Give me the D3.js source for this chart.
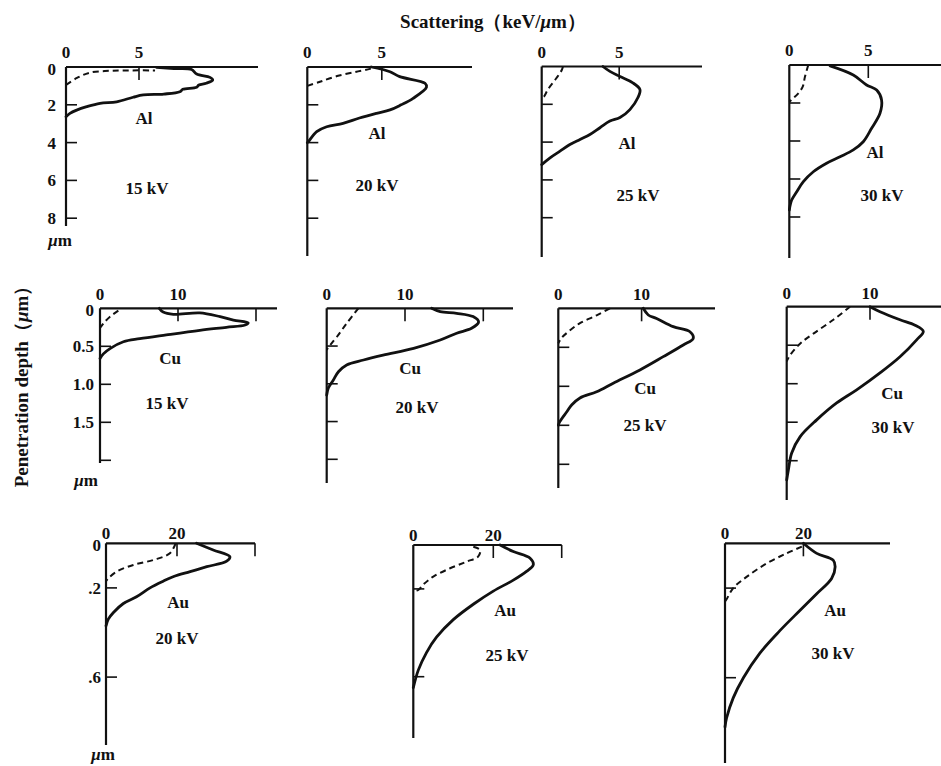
<!DOCTYPE html>
<html>
<head>
<meta charset="utf-8">
<script src="https://cdn.jsdelivr.net/npm/d3@7"></script>
<style>
  body { margin: 0; background: #fff; }
  text { font-family: "Liberation Serif", "Times New Roman", serif; fill: #111; }
</style>
</head>
<body>
<div class="chart"></div>
<script>
// scattering (keV/um) vs penetration depth (um)
var al15Solid = [[6.2,0.02],[7.4,0.08],[8.6,0.13],[8.95,0.37],[9.86,0.55],[10.05,0.69],[9.6,0.86],[9.1,0.95],[8.95,1.07],[8.0,1.18],[7.8,1.31],[6.7,1.43],[5.3,1.48],[4.6,1.6],[3.47,1.84],[2.33,1.92],[1.42,2.1],[0.73,2.28],[0.27,2.45],[0,2.63]];
var al15Dashed = [[0,0.95],[0.75,0.58],[1.64,0.30],[3.0,0.2],[4.5,0.18],[6.1,0.18]];
var al20Solid = [[4.3,0],[5.55,0.25],[6.2,0.51],[7.9,0.86],[8.0,1.07],[7.1,1.66],[6.3,2.0],[5.55,2.27],[4.65,2.45],[3.5,2.7],[2.4,2.98],[1.3,3.16],[0.63,3.42],[0.07,3.95],[0,4.0]];
var al20Dashed = [[0,1.0],[0.85,0.78],[2.0,0.48],[3.3,0.25],[4.2,0.1],[4.55,0.03]];
var al25Solid = [[3.95,0],[4.4,0.26],[5.05,0.53],[5.85,0.85],[6.34,1.22],[6.21,1.64],[5.69,2.28],[5.05,2.7],[4.4,2.89],[3.76,3.24],[3.11,3.6],[2.47,3.86],[1.82,4.13],[1.18,4.48],[0.54,4.83],[0,5.19]];
var al25Dashed = [[1.37,0],[1.31,0.16],[1.12,0.42],[0.79,0.79],[0.4,1.22],[0.15,1.59],[0,1.69]];
var al30Solid = [[2.58,0.05],[4.05,0.53],[4.89,1.05],[5.53,1.32],[5.84,1.84],[5.74,2.54],[5.21,3.33],[4.68,4.04],[4.05,4.47],[3.21,4.83],[2.36,5.17],[1.52,5.62],[0.89,6.14],[0.47,6.67],[0.15,7.11],[0,7.63]];
var al30Dashed = [[1.2,0],[0.99,0.62],[0.85,1.14],[0.57,1.49],[0.25,1.75],[0,1.93]];

var cu15Solid = [[7.6,0],[8.1,0.05],[9.4,0.08],[12.8,0.06],[15.4,0.11],[17.1,0.155],[19.0,0.19],[18.6,0.22],[16.2,0.25],[12.8,0.29],[8.5,0.35],[5.1,0.4],[3.0,0.44],[1.28,0.53],[0.43,0.6],[0,0.66]];
var cu15Dashed = [[2.35,0.03],[1.28,0.11],[0.43,0.2],[0,0.26]];
var cu20Solid = [[13.4,0],[14.5,0.045],[16.6,0.066],[18.7,0.11],[19.4,0.18],[18.5,0.265],[16.6,0.33],[14.5,0.42],[11.1,0.53],[7.2,0.62],[4.7,0.685],[2.55,0.75],[1.5,0.84],[0.85,0.95],[0.2,1.06],[0,1.15]];
var cu20Dashed = [[4.04,0],[2.55,0.2],[1.28,0.38],[0.42,0.49],[0,0.55]];
var cu25Solid = [[10.2,0],[10.8,0.086],[11.8,0.13],[13.8,0.235],[15.8,0.3],[16.2,0.385],[15.0,0.47],[12.6,0.62],[9.8,0.79],[6.6,0.96],[4.6,1.07],[2.6,1.15],[1.6,1.24],[1.0,1.33],[0.2,1.45],[0,1.5]];
var cu25Dashed = [[6.2,0],[4.6,0.09],[2.6,0.19],[1.2,0.3],[0.4,0.38],[0,0.45]];
var cu30Solid = [[10.0,0],[11.2,0.065],[13.6,0.17],[15.4,0.24],[16.4,0.32],[15.6,0.43],[13.6,0.65],[11.2,0.86],[8.4,1.08],[6.0,1.25],[3.6,1.47],[1.6,1.69],[0.6,1.9],[0.2,2.12],[0,2.25]];
var cu30Dashed = [[7.6,0],[5.6,0.17],[3.2,0.35],[1.6,0.48],[0.4,0.63],[0,0.71]];

var au20Solid = [[25.5,0],[30.2,0.03],[34.9,0.06],[34.0,0.08],[28.4,0.105],[23.7,0.127],[18.9,0.15],[16.1,0.17],[12.4,0.2],[8.6,0.24],[4.9,0.27],[2.1,0.31],[0.65,0.34],[0,0.37]];
var au20Dashed = [[19.6,0],[18.0,0.045],[13.3,0.075],[7.7,0.097],[3.0,0.127],[0.65,0.157],[0,0.17]];
var au25Solid = [[21.7,0],[25,0.03],[29.2,0.06],[30,0.09],[28.3,0.12],[25,0.16],[20,0.21],[15,0.27],[10,0.34],[5.8,0.42],[3.3,0.49],[1.25,0.57],[0,0.65]];
var au25Dashed = [[15.0,0.008],[16.7,0.023],[16.2,0.053],[13.3,0.076],[9.2,0.106],[5.0,0.144],[2.5,0.18],[1.25,0.205],[0,0.21]];
var au30Solid = [[20,0],[23.4,0.045],[27.6,0.075],[28.1,0.105],[27.2,0.157],[23.4,0.225],[19.1,0.3],[14,0.39],[8.9,0.49],[4.7,0.6],[2.1,0.69],[0.4,0.78],[0,0.82]];
var au30Dashed = [[19.6,0.015],[15.7,0.045],[10.6,0.09],[5.5,0.15],[2.1,0.2],[0.4,0.25],[0,0.26]];

// ticks per element
var alXTicks = [5], alXLabels = ["0", "5"];
var alYTicks = [2, 4, 6, 8], alYLabels = ["0", "2", "4", "6", "8"];
var cuXTicks = [10, 20], cuXLabels = ["0", "10"];
var cuYTicks = [0.5, 1.0, 1.5, 2.0], cuYLabels = ["0", "0.5", "1.0", "1.5"];
var auXTicks = [20], auXLabels = ["0", "20"];
var auYTicks = [0.2, 0.6], auYLabels = ["0", ".2", ".6"];

var elements = ["Al", "Cu", "Au"];
var voltages = ["15 kV", "20 kV", "25 kV", "30 kV"];

var svgWidth = 941, svgHeight = 766;
var fs = "17px";

var svg = d3.select(".chart").append("svg")
  .attr("width", svgWidth)
  .attr("height", svgHeight);

var rows = {
  Al: { xt: alXTicks, xl: alXLabels, yt: alYTicks, yl: alYLabels, xlOff: 9, ylOff: 10 },
  Cu: { xt: cuXTicks, xl: cuXLabels, yt: cuYTicks, yl: cuYLabels, xlOff: 8, ylOff: 6 },
  Au: { xt: auXTicks, xl: auXLabels, yt: auYTicks, yl: auYLabels, xlOff: 4, ylOff: 5 }
};

// frame of each small panel: origin, pixels per unit, axis ends, label spots
var panels = [
  { el: "Al", kv: voltages[0], solid: al15Solid, dashed: al15Dashed, ox: 66, oy: 67, kx: 14.6, ky: 18.9, xEnd: 258, yEnd: 226, elPos: [144, 124], kvPos: [147, 194], yLab: true, um: [60, 246] },
  { el: "Al", kv: voltages[1], solid: al20Solid, dashed: al20Dashed, ox: 307.3, oy: 67, kx: 14.9, ky: 18.9, xEnd: 472, yEnd: 256, elPos: [377, 139], kvPos: [377, 191] },
  { el: "Al", kv: voltages[2], solid: al25Solid, dashed: al25Dashed, ox: 541.7, oy: 66.5, kx: 15.5, ky: 18.9, xEnd: 702, yEnd: 257, elPos: [627, 149], kvPos: [638, 201] },
  { el: "Al", kv: voltages[3], solid: al30Solid, dashed: al30Dashed, ox: 789.3, oy: 65, kx: 15.8, ky: 19, xEnd: 945, yEnd: 258, elPos: [875, 158], kvPos: [882, 201] },
  { el: "Cu", kv: voltages[0], solid: cu15Solid, dashed: cu15Dashed, ox: 100, oy: 308.3, kx: 7.8, ky: 76, xEnd: 277, yEnd: 463, elPos: [170, 364], kvPos: [167, 409], yLab: true, um: [86, 486] },
  { el: "Cu", kv: voltages[1], solid: cu20Solid, dashed: cu20Dashed, ox: 326.7, oy: 308.3, kx: 7.83, ky: 75.5, xEnd: 513, yEnd: 483, elPos: [410, 374], kvPos: [417, 413] },
  { el: "Cu", kv: voltages[2], solid: cu25Solid, dashed: cu25Dashed, ox: 558.3, oy: 308.3, kx: 8.33, ky: 78, xEnd: 715, yEnd: 488, elPos: [645, 394], kvPos: [645, 431] },
  { el: "Cu", kv: voltages[3], solid: cu30Solid, dashed: cu30Dashed, ox: 786.7, oy: 306.7, kx: 8.33, ky: 77, xEnd: 945, yEnd: 500, elPos: [892, 399], kvPos: [893, 433] },
  { el: "Au", kv: voltages[1], solid: au20Solid, dashed: au20Dashed, ox: 106, oy: 543.3, kx: 3.55, ky: 223, xEnd: 255, yEnd: 745, cap: true, elPos: [178, 608], kvPos: [177, 644], yLab: true, um: [103, 760] },
  { el: "Au", kv: voltages[2], solid: au25Solid, dashed: au25Dashed, ox: 413.3, oy: 545, kx: 4.0, ky: 219.5, xEnd: 561.7, yEnd: 738, cap: true, elPos: [505, 616], kvPos: [507, 661] },
  { el: "Au", kv: voltages[3], solid: au30Solid, dashed: au30Dashed, ox: 725, oy: 543.3, kx: 3.92, ky: 224, xEnd: 890, yEnd: 763, elPos: [835, 616], kvPos: [833, 659] }
];

panels.forEach(function(p) {
  var r = rows[p.el];
  var x = d3.scaleLinear().domain([0, (p.xEnd - p.ox) / p.kx]).range([p.ox, p.xEnd]);
  var y = d3.scaleLinear().domain([0, (p.yEnd - p.oy) / p.ky]).range([p.oy, p.yEnd]);
  var g = svg.append("g");

  // axes
  g.append("line").attr("x1", p.ox).attr("x2", p.xEnd).attr("y1", p.oy).attr("y2", p.oy)
    .attr("stroke", "#111").attr("stroke-width", 2.2);
  g.append("line").attr("x1", p.ox).attr("x2", p.ox).attr("y1", p.oy).attr("y2", p.yEnd)
    .attr("stroke", "#111").attr("stroke-width", 2.2);

  r.xt.filter(function(t) { return x(t) <= p.xEnd; }).forEach(function(t) {
    g.append("line").attr("x1", x(t)).attr("x2", x(t)).attr("y1", p.oy).attr("y2", p.oy + 13)
      .attr("stroke", "#111").attr("stroke-width", 1.6);
  });
  if (p.cap) {
    g.append("line").attr("x1", p.xEnd).attr("x2", p.xEnd).attr("y1", p.oy).attr("y2", p.oy + 13)
      .attr("stroke", "#111").attr("stroke-width", 1.6);
  }
  r.yt.filter(function(t) { return y(t) <= p.yEnd; }).forEach(function(t) {
    g.append("line").attr("x1", p.ox).attr("x2", p.ox + 11).attr("y1", y(t)).attr("y2", y(t))
      .attr("stroke", "#111").attr("stroke-width", 1.6);
  });

  // top tick labels
  g.selectAll(".xl").data(r.xl).enter().append("text")
    .attr("x", function(d) { return x(+d); })
    .attr("y", p.oy - r.xlOff)
    .attr("text-anchor", "middle")
    .style("font-size", fs).style("font-weight", "bold")
    .text(function(d) { return d; });

  if (p.yLab) {
    g.selectAll(".yl").data(r.yl).enter().append("text")
      .attr("x", p.ox - r.ylOff)
      .attr("y", function(d, i) { return i === 0 ? p.oy + 8 : y(+d) + 6; })
      .attr("text-anchor", "end")
      .style("font-size", fs).style("font-weight", "bold")
      .text(function(d) { return d; });
    var um = g.append("text").attr("x", p.um[0]).attr("y", p.um[1])
      .attr("text-anchor", "middle").style("font-size", fs).style("font-weight", "bold");
    um.append("tspan").style("font-style", "italic").text("μ");
    um.append("tspan").text("m");
  }

  var line = d3.line()
    .x(function(d) { return x(d[0]); })
    .y(function(d) { return y(d[1]); })
    .curve(d3.curveCatmullRom.alpha(0.5));

  g.append("path").attr("d", line(p.dashed))
    .attr("fill", "none").attr("stroke", "#111").attr("stroke-width", 2)
    .attr("stroke-dasharray", "6,4");
  g.append("path").attr("d", line(p.solid))
    .attr("fill", "none").attr("stroke", "#111").attr("stroke-width", 2.8)
    .attr("stroke-linejoin", "round").attr("stroke-linecap", "round");

  g.append("text").attr("x", p.elPos[0]).attr("y", p.elPos[1])
    .attr("text-anchor", "middle").style("font-size", fs).style("font-weight", "bold")
    .text(p.el);
  g.append("text").attr("x", p.kvPos[0]).attr("y", p.kvPos[1])
    .attr("text-anchor", "middle").style("font-size", fs).style("font-weight", "bold")
    .text(p.kv);
});

// titles
var title = svg.append("text").attr("x", 493).attr("y", 28)
  .attr("text-anchor", "middle").style("font-size", "19px").style("font-weight", "bold");
title.append("tspan").text("Scattering（keV/");
title.append("tspan").style("font-style", "italic").text("μ");
title.append("tspan").text("m）");

var ytitle = svg.append("text")
  .attr("transform", "translate(28,382) rotate(-90)")
  .attr("text-anchor", "middle").style("font-size", "19px").style("font-weight", "bold");
ytitle.append("tspan").text("Penetration depth（");
ytitle.append("tspan").style("font-style", "italic").text("μ");
ytitle.append("tspan").text("m）");
</script>
</body>
</html>
